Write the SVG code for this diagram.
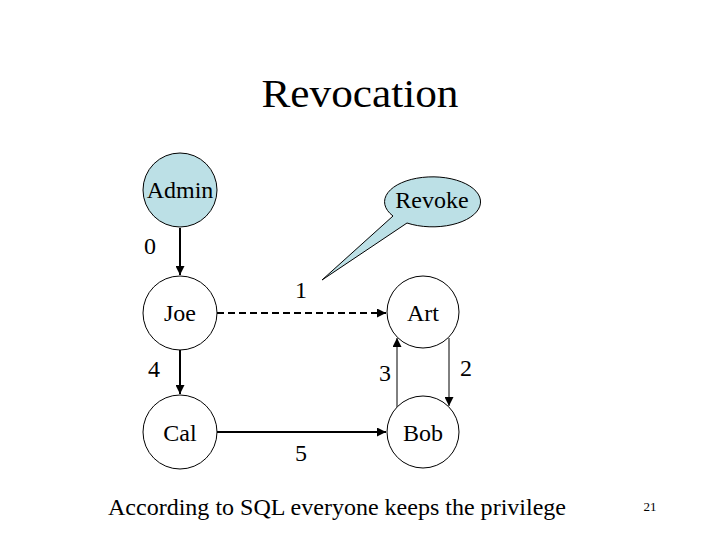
<svg xmlns="http://www.w3.org/2000/svg" width="720" height="540" viewBox="0 0 720 540" font-family="Liberation Serif, Times New Roman, DejaVu Serif, serif">
<style>
text{font-family:'Liberation Serif','Times New Roman','DejaVu Serif',serif;fill:#000}
.n{font-size:24px;text-anchor:middle}
.node{fill:#fff;stroke:#000;stroke-width:1}
.blue{fill:#BCE0E6;stroke:#000;stroke-width:1}
.c{stroke:#000;stroke-width:2;fill:none}
.t{stroke:#000;stroke-width:1;fill:none}
</style>
<defs>
<marker id="ah" viewBox="0 0 10 10" refX="10" refY="5" markerWidth="9" markerHeight="9" markerUnits="userSpaceOnUse" orient="auto">
<path d="M0,0 L10,5 L0,10 z" fill="#000"/>
</marker>
</defs>
<rect width="720" height="540" fill="#fff"/>
<text x="360" y="107" font-size="40" text-anchor="middle" textLength="197" lengthAdjust="spacingAndGlyphs" font-family="Liberation Serif, serif">Revocation</text>
<g id="connectors">
<line class="c" x1="180" y1="228" x2="180" y2="275" marker-end="url(#ah)"/>
<line class="c" x1="180" y1="350" x2="180" y2="394" marker-end="url(#ah)"/>
<line class="c" x1="217" y1="313" x2="386" y2="313" stroke-dasharray="7,4" marker-end="url(#ah)"/>
<line class="c" x1="217" y1="432" x2="386" y2="432" marker-end="url(#ah)"/>
<line class="t" x1="397" y1="407" x2="397" y2="338" marker-end="url(#ah)"/>
<line class="t" x1="449" y1="338" x2="449" y2="406" marker-end="url(#ah)"/>
<text class="n" x="150" y="254" font-family="Liberation Serif, serif">0</text>
<text class="n" x="301" y="298" font-family="Liberation Serif, serif">1</text>
<text class="n" x="154" y="377" font-family="Liberation Serif, serif">4</text>
<text class="n" x="385" y="381" font-family="Liberation Serif, serif">3</text>
<text class="n" x="466" y="376" font-family="Liberation Serif, serif">2</text>
<text class="n" x="301" y="461" font-family="Liberation Serif, serif">5</text>
</g>
<g id="admin"><circle class="blue" cx="180" cy="190" r="37"/><text class="n" x="180" y="198" font-family="Liberation Serif, serif">Admin</text></g>
<g id="revoke"><path class="blue" d="M322,280 L393,216 A48,25 0 1 1 407,223 Z"/><text class="n" x="432" y="208" font-family="Liberation Serif, serif">Revoke</text></g>
<g id="joe"><circle class="node" cx="180" cy="313" r="37"/><text class="n" x="180" y="321" font-family="Liberation Serif, serif">Joe</text></g>
<g id="art"><circle class="node" cx="423" cy="312" r="36"/><text class="n" x="423" y="321" font-family="Liberation Serif, serif">Art</text></g>
<g id="cal"><circle class="node" cx="180" cy="432" r="37"/><text class="n" x="180" y="441" font-family="Liberation Serif, serif">Cal</text></g>
<g id="bob"><circle class="node" cx="423" cy="432" r="36"/><text class="n" x="423" y="441" font-family="Liberation Serif, serif">Bob</text></g>
<text x="108" y="515" font-size="24" textLength="458" lengthAdjust="spacingAndGlyphs" font-family="Liberation Serif, serif">According to SQL everyone keeps the privilege</text>
<text x="650" y="511" font-size="13" text-anchor="middle" font-family="Liberation Serif, serif">21</text>
</svg>
